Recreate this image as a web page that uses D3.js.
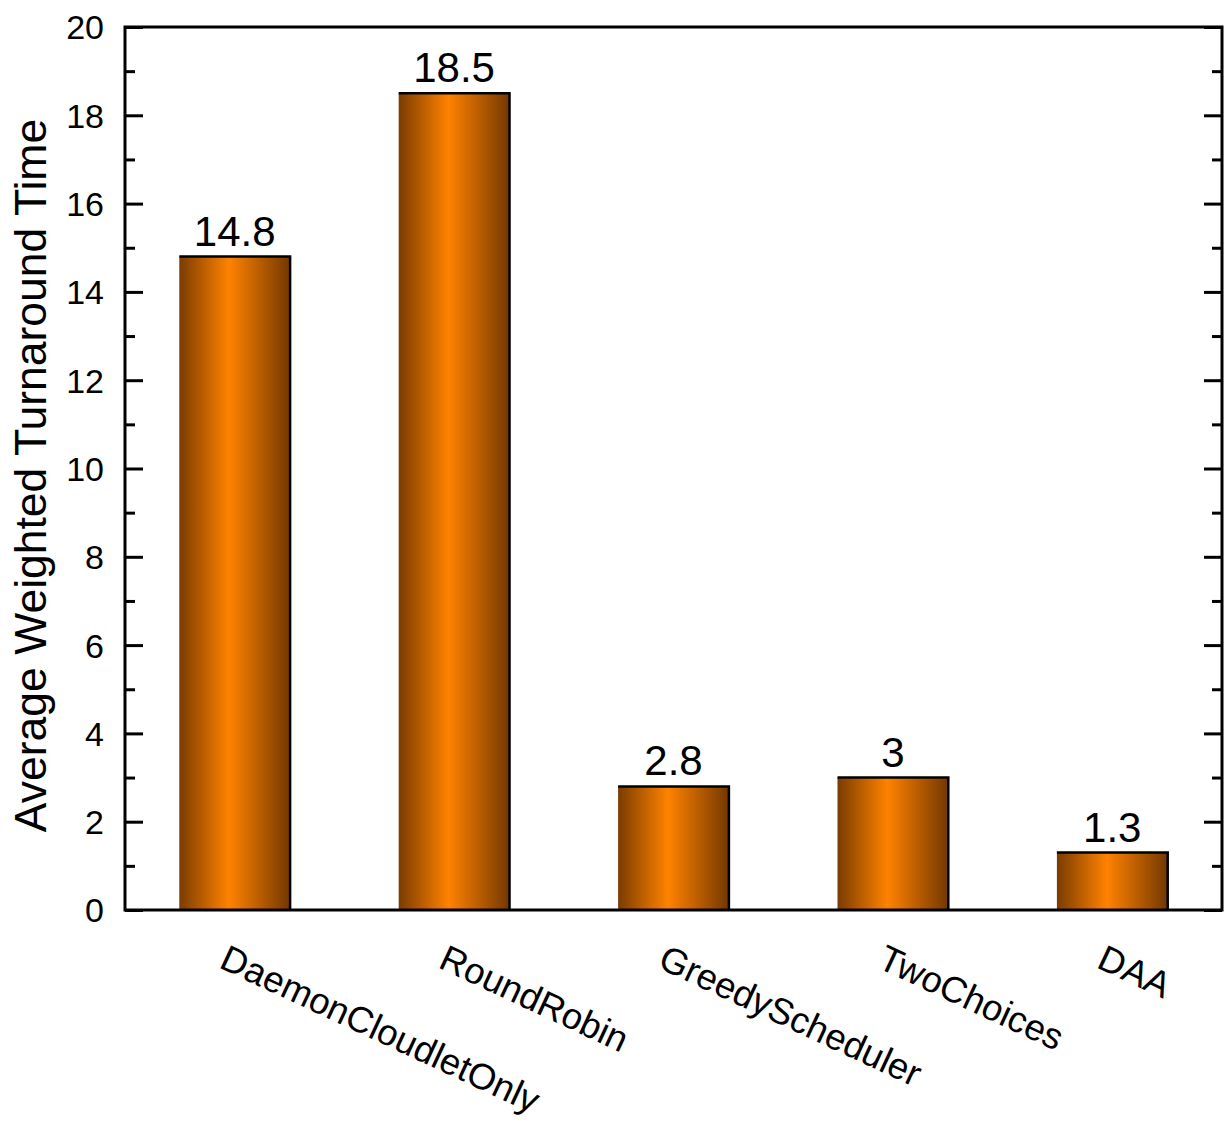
<!DOCTYPE html>
<html>
<head>
<meta charset="utf-8">
<script src="https://cdn.jsdelivr.net/npm/d3@7"></script>
<style>
  body { margin: 0; background: #fff; }
  text { font-family: "Liberation Sans", Arial, Helvetica, sans-serif; fill: #000; }
</style>
</head>
<body>
<script>
// data
var schedulers = ["DaemonCloudletOnly", "RoundRobin", "GreedyScheduler", "TwoChoices", "DAA"];
var turnaround = [14.8, 18.5, 2.8, 3, 1.3];
var valueLabels = ["14.8", "18.5", "2.8", "3", "1.3"];
var yTicks = [0, 2, 4, 6, 8, 10, 12, 14, 16, 18, 20];
var yMinorTicks = [1, 3, 5, 7, 9, 11, 13, 15, 17, 19];

var breedte = 1228, hoogte = 1134;
var marge = {boven: 27, rechts: 6, beneden: 224, links: 125};
var grafiekBreedte = breedte - marge.links - marge.rechts;
var grafiekHoogte = hoogte - marge.boven - marge.beneden;

var svg = d3.select("body").append("svg")
    .attr("width", breedte)
    .attr("height", hoogte);

// gradient for the bars
var defs = svg.append("defs");
var grad = defs.append("linearGradient")
    .attr("id", "staafKleur")
    .attr("x1", "0%").attr("x2", "100%")
    .attr("y1", "0%").attr("y2", "0%");
grad.append("stop").attr("offset", "0%").attr("stop-color", "#7a3c00");
grad.append("stop").attr("offset", "45%").attr("stop-color", "#ff8200");
grad.append("stop").attr("offset", "100%").attr("stop-color", "#733800");

var g = svg.append("g")
    .attr("transform", "translate(" + marge.links + "," + marge.boven + ")");

var x = d3.scaleBand()
    .domain(schedulers)
    .range([0, grafiekBreedte])
    .paddingInner(0.495)
    .paddingOuter(0.2475);

var y = d3.scaleLinear()
    .domain([0, 20])
    .range([grafiekHoogte, 0]);

// bars
var staven = g.selectAll(".staaf")
    .data(schedulers)
    .enter().append("g")
    .attr("class", "staaf");

staven.append("rect")
    .attr("x", function(d) { return x(d); })
    .attr("y", function(d, i) { return y(turnaround[i]); })
    .attr("width", x.bandwidth())
    .attr("height", function(d, i) { return y(0) - y(turnaround[i]); })
    .style("fill", "url(#staafKleur)");

// top and right edge outline
staven.append("path")
    .attr("d", function(d, i) {
      var x0 = x(d), x1 = x(d) + x.bandwidth(), yt = y(turnaround[i]);
      return "M" + x0 + "," + yt + "H" + x1 + "V" + y(0);
    })
    .attr("fill", "none")
    .attr("stroke", "#000")
    .attr("stroke-width", 2.5);

// value labels
staven.append("text")
    .attr("x", function(d) { return x(d) + x.bandwidth() / 2; })
    .attr("y", function(d, i) { return y(turnaround[i]) - 11; })
    .attr("text-anchor", "middle")
    .attr("font-size", "42px")
    .text(function(d, i) { return valueLabels[i]; });

// y axis left
var asLinks = g.append("g")
    .call(d3.axisLeft(y).tickValues(yTicks).tickSize(-18).tickPadding(21).tickSizeOuter(0));
asLinks.selectAll("text").attr("font-size", "34px").attr("dy", "0.35em").style("font-family", null);
asLinks.selectAll("line").attr("stroke-width", 3);
asLinks.select(".domain").remove();

g.append("g")
    .call(d3.axisLeft(y).tickValues(yMinorTicks).tickSize(-10).tickFormat(""))
    .call(function(s) { s.select(".domain").remove(); s.selectAll("line").attr("stroke-width", 3); });

// y axis right
g.append("g")
    .attr("transform", "translate(" + grafiekBreedte + ",0)")
    .call(d3.axisRight(y).tickValues(yTicks).tickSize(-18).tickFormat(""))
    .call(function(s) { s.select(".domain").remove(); s.selectAll("line").attr("stroke-width", 3); });

g.append("g")
    .attr("transform", "translate(" + grafiekBreedte + ",0)")
    .call(d3.axisRight(y).tickValues(yMinorTicks).tickSize(-10).tickFormat(""))
    .call(function(s) { s.select(".domain").remove(); s.selectAll("line").attr("stroke-width", 3); });

// frame
g.append("rect")
    .attr("x", 0).attr("y", 0)
    .attr("width", grafiekBreedte)
    .attr("height", grafiekHoogte)
    .attr("fill", "none")
    .attr("stroke", "#000")
    .attr("stroke-width", 3);

// category labels, rotated
g.selectAll(".categorie")
    .data(schedulers)
    .enter().append("text")
    .attr("class", "categorie")
    .attr("transform", function(d) {
      return "translate(" + (x(d) + x.bandwidth() / 2 - 17) + "," + (grafiekHoogte + 57) + ") rotate(25)";
    })
    .attr("font-size", "36.5px")
    .attr("text-anchor", "start")
    .text(function(d) { return d; });

// y axis title
svg.append("text")
    .attr("transform", "translate(46," + (marge.boven + grafiekHoogte / 2 + 7) + ") rotate(-90)")
    .attr("text-anchor", "middle")
    .attr("font-size", "44.5px")
    .text("Average Weighted Turnaround Time");
</script>
</body>
</html>
